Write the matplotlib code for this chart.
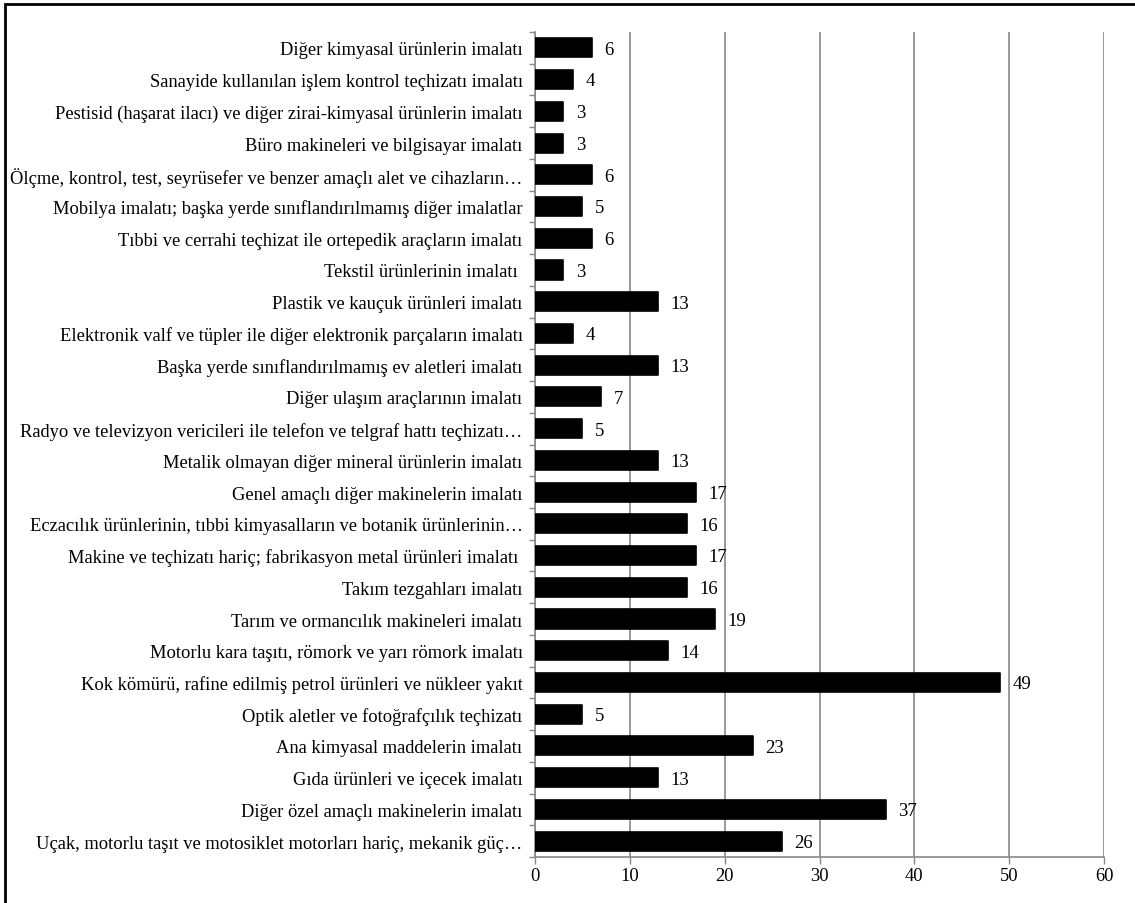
import numpy as np
import matplotlib
matplotlib.use("Agg")
import matplotlib.pyplot as plt
from matplotlib.patches import Rectangle

plt.rcParams['font.family'] = ['Liberation Serif', 'DejaVu Serif']

labels = [
    "Diğer kimyasal ürünlerin imalatı",
    "Sanayide kullanılan işlem kontrol teçhizatı imalatı",
    "Pestisid (haşarat ilacı) ve diğer zirai-kimyasal ürünlerin imalatı",
    "Büro makineleri ve bilgisayar imalatı",
    "Ölçme, kontrol, test, seyrüsefer ve benzer amaçlı alet ve cihazların…",
    "Mobilya imalatı; başka yerde sınıflandırılmamış diğer imalatlar",
    "Tıbbi ve cerrahi teçhizat ile ortepedik araçların imalatı",
    "Tekstil ürünlerinin imalatı ",
    "Plastik ve kauçuk ürünleri imalatı",
    "Elektronik valf ve tüpler ile diğer elektronik parçaların imalatı",
    "Başka yerde sınıflandırılmamış ev aletleri imalatı",
    "Diğer ulaşım araçlarının imalatı",
    "Radyo ve televizyon vericileri ile telefon ve telgraf hattı teçhizatı…",
    "Metalik olmayan diğer mineral ürünlerin imalatı",
    "Genel amaçlı diğer makinelerin imalatı",
    "Eczacılık ürünlerinin, tıbbi kimyasalların ve botanik ürünlerinin…",
    "Makine ve teçhizatı hariç; fabrikasyon metal ürünleri imalatı ",
    "Takım tezgahları imalatı",
    "Tarım ve ormancılık makineleri imalatı",
    "Motorlu kara taşıtı, römork ve yarı römork imalatı",
    "Kok kömürü, rafine edilmiş petrol ürünleri ve nükleer yakıt",
    "Optik aletler ve fotoğrafçılık teçhizatı",
    "Ana kimyasal maddelerin imalatı",
    "Gıda ürünleri ve içecek imalatı",
    "Diğer özel amaçlı makinelerin imalatı",
    "Uçak, motorlu taşıt ve motosiklet motorları hariç, mekanik güç…",
]
values = [6, 4, 3, 3, 6, 5, 6, 3, 13, 4, 13, 7, 5, 13, 17, 16, 17, 16, 19, 14,
          49, 5, 23, 13, 37, 26]

fig = plt.figure(figsize=(11.35, 9.04), dpi=100)
ax = fig.add_axes([535/1135, 1-858/904, (1104-535)/1135, (858-33)/904])

y = np.arange(len(labels))
ax.barh(y, values, height=0.6, color='black', edgecolor='black',
        linewidth=1.2, joinstyle='round', zorder=3)

for yi, v in zip(y, values):
    ax.annotate(str(v), (v, yi), xytext=(9, -1), textcoords='offset points',
                ha='left', va='center', fontsize=13.5, zorder=4)

ax.set_ylim(len(labels) - 0.5, -0.5)
ax.set_xlim(0, 60)
ax.set_xticks(range(0, 61, 10))
ax.set_yticks(y)
ax.set_yticklabels(labels, fontsize=13.3)
ax.set_yticks(np.arange(-0.5, len(labels), 1), minor=True)
ax.tick_params(axis='y', which='major', length=0, pad=9)
ax.tick_params(axis='y', which='minor', length=4, color='#888888', width=1)
ax.tick_params(axis='x', length=5, color='#888888', width=1, labelsize=13.3, pad=2)

ax.grid(axis='x', color='#888888', linewidth=1.2, zorder=0)
ax.set_axisbelow(True)
for s in ['top', 'right']:
    ax.spines[s].set_visible(False)
for s in ['left', 'bottom']:
    ax.spines[s].set_color('#888888')
    ax.spines[s].set_linewidth(1.2)

# chart frame (only top and left edges fall inside the picture)
fig.patches.append(Rectangle((5/1135, -0.1), 1.2, 1.1 - 5/904, transform=fig.transFigure,
                             fill=False, edgecolor='black', linewidth=2))

fig.savefig("out.png", dpi=100)
